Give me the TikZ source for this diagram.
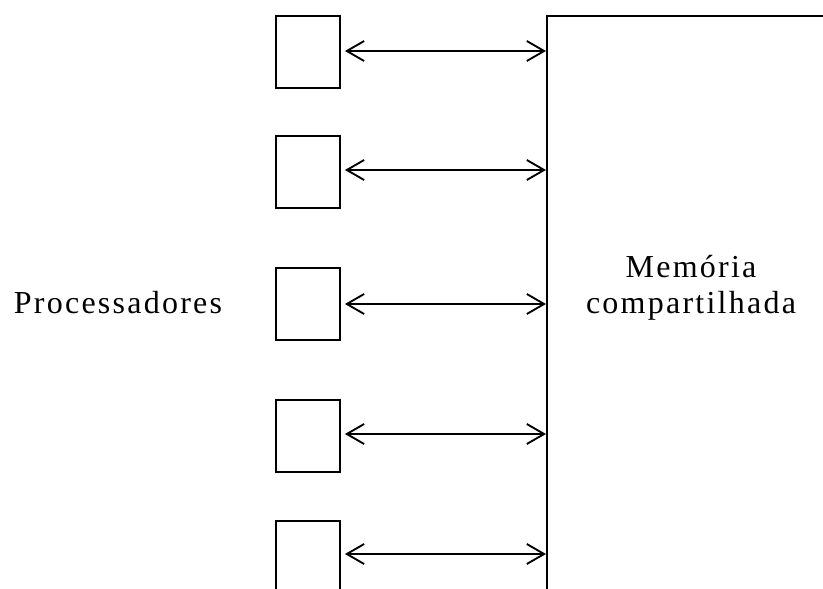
\documentclass[tikz,border=0pt]{standalone}
\usepackage{fontspec}
\setmainfont{Liberation Serif}[LetterSpace=7]
\usetikzlibrary{arrows.meta}
\tikzset{
  proc/.style={draw,line width=1.4pt,minimum width=48pt,minimum height=54pt,inner sep=0pt},
  link/.style={{Straight Barb[length=13pt,width=15pt]}-{Straight Barb[length=13pt,width=15pt]},line width=1.4pt},
  lbl/.style={font=\fontsize{24pt}{27pt}\selectfont,inner sep=0pt}
}
\begin{document}
\begin{tikzpicture}[x=0.75pt,y=-0.75pt]
                \useasboundingbox (0,0) rectangle (823,588);
                % memoria
                \draw[line width=1.4pt] (547,600) -- (547,16) -- (830,16);
                \coordinate (mem) at (546,0);
                \node[lbl,anchor=base,align=center] (memtxt) at (691,313) {Memória\\compartilhada};
                % processadores
                \foreach \i/\y/\d in {1/52/1,2/172/2,3/304/0,4/436/2,5/557/3} {
                    \node[proc] (p\i) at (308,\y) {};
                    \draw[link,shorten <=3pt] ([yshift=\d*0.75pt]p\i.east) -- ([yshift=\d*0.75pt]p\i.east -| mem);
                }
                \node[lbl,anchor=base] (proctxt) at (118,313) {Processadores};
            \end{tikzpicture}
\end{document}
